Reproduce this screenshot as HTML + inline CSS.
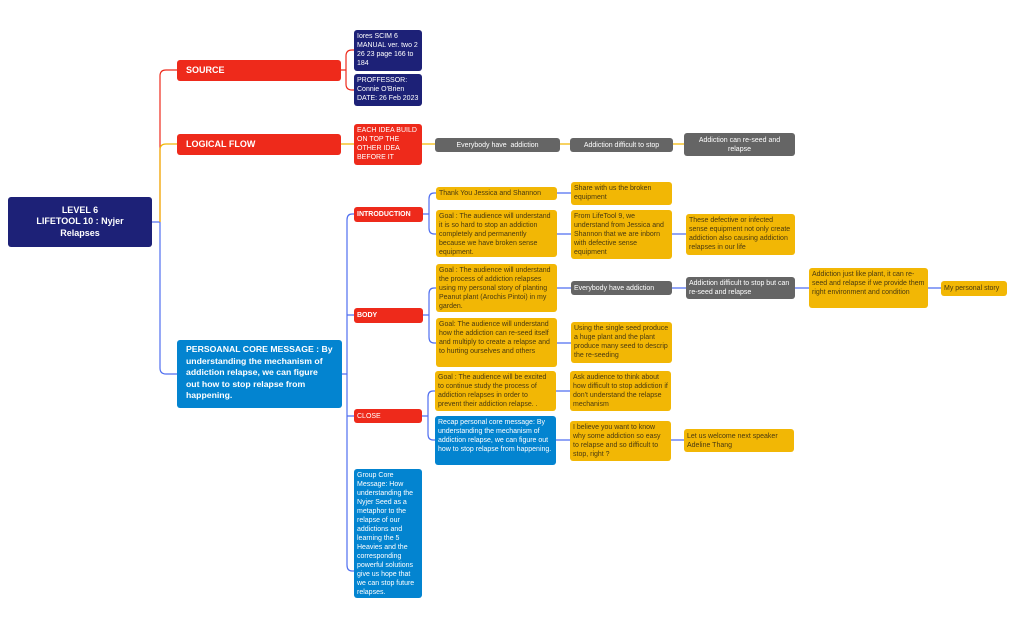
<!DOCTYPE html>
<html><head><meta charset="utf-8"><style>
body{margin:0;width:1016px;height:629px;background:#fff;position:relative;overflow:hidden;font-family:"Liberation Sans",sans-serif}
.b{position:absolute;box-sizing:border-box;border-radius:3px;font-size:7px;line-height:9px;padding:2px 3px;overflow:hidden}
.y{background:#f2b705;color:#4a3a10}
.g{background:#656565;color:#fff}
.r{background:#ee2a1b;color:#fff}
.n{background:#1d2177;color:#fff}
.bl{background:#0384d0;color:#fff}
.c{text-align:center}
.m{display:flex;align-items:center}
.m.c{justify-content:center}
svg{position:absolute;left:0;top:0}
</style></head><body>
<svg width="1016" height="629" fill="none" stroke-width="1.2">
<path d="M152 222H160" stroke="#4f6ef0"/>
<path d="M160 222V76Q160 70 166 70H177" stroke="#ee2a1b"/>
<path d="M160 222V150Q160 144 166 144H177" stroke="#f2b705"/>
<path d="M160 222V368Q160 374 166 374H177" stroke="#4f6ef0"/>
<path d="M341 70H346M346 70V56Q346 50 352 50H354M346 70V84Q346 90 352 90H354" stroke="#ee2a1b"/>
<path d="M341 144H354M422 144H435M560 144H570M673 144H684" stroke="#f2b705"/>
<g stroke="#4f6ef0">
<path d="M342 374H347M347 374V220Q347 214 352 214H354M347 374V565Q347 571 352 571H354M347 315H354M347 416H354"/>
<path d="M423 214H429M429 214V199Q429 193 434 193H436M429 214V228Q429 234 434 234H436"/>
<path d="M423 315H429M429 315V294Q429 288 434 288H436M429 315V337Q429 343 434 343H436"/>
<path d="M422 416H428M428 416V397Q428 391 433 391H435M428 416V434Q428 440 433 440H435"/>
<path d="M557 193H571M557 234H571M672 234H686M557 288H571M672 288H686M795 288H809M928 288H941M557 343H571M556 391H570M556 440H570M671 440H684"/>
</g>
</svg>
<div class="b n c m" style="left:8px;top:197px;width:144px;height:50px;font-size:9px;line-height:11.5px;font-weight:bold">LEVEL 6<br>LIFETOOL 10 : Nyjer<br>Relapses</div>
<div class="b r m" style="left:177px;top:60px;width:164px;height:21px;font-size:9px;font-weight:bold;padding:0 9px">SOURCE</div>
<div class="b r m" style="left:177px;top:134px;width:164px;height:21px;font-size:9px;font-weight:bold;padding:0 9px">LOGICAL FLOW</div>
<div class="b bl" style="left:177px;top:340px;width:165px;height:68px;font-size:8.7px;line-height:11.5px;font-weight:bold;padding:4px 9px">PERSOANAL CORE MESSAGE : By understanding the mechanism of addiction relapse, we can figure out how to stop relapse from happening.</div>
<div class="b n" style="left:354px;top:30px;width:68px;height:41px">Iores SCIM 6 MANUAL ver. two 2 26 23 page 166 to 184</div>
<div class="b n" style="left:354px;top:74px;width:68px;height:32px">PROFFESSOR: Connie O'Brien DATE: 26 Feb 2023</div>
<div class="b r" style="left:354px;top:124px;width:68px;height:41px">EACH IDEA BUILD ON TOP THE OTHER IDEA BEFORE IT</div>
<div class="b g c m" style="left:435px;top:138px;width:125px;height:14px">Everybody have &nbsp;addiction</div>
<div class="b g c m" style="left:570px;top:138px;width:103px;height:14px">Addiction difficult to stop</div>
<div class="b g c m" style="left:684px;top:133px;width:111px;height:23px;padding:0 14px">Addiction can re-seed and relapse</div>
<div class="b r m" style="left:354px;top:207px;width:69px;height:15px;font-weight:bold">INTRODUCTION</div>
<div class="b r m" style="left:354px;top:308px;width:69px;height:15px;font-weight:bold">BODY</div>
<div class="b r m" style="left:354px;top:409px;width:68px;height:14px">CLOSE</div>
<div class="b bl" style="left:354px;top:469px;width:68px;height:129px">Group Core Message: How understanding the Nyjer Seed as a metaphor to the relapse of our addictions and learning the 5 Heavies and the corresponding powerful solutions give us hope that we can stop future relapses.</div>
<div class="b y m" style="left:436px;top:187px;width:121px;height:13px">Thank You Jessica and Shannon</div>
<div class="b y" style="left:436px;top:210px;width:121px;height:47px">Goal : The audience will understand it is so hard to stop an addiction completely and permanently because we have broken sense equipment.</div>
<div class="b y" style="left:571px;top:182px;width:101px;height:23px">Share with us the broken equipment</div>
<div class="b y" style="left:571px;top:210px;width:101px;height:49px">From LifeTool 9, we understand from Jessica and Shannon that we are inborn with defective sense equipment</div>
<div class="b y" style="left:686px;top:214px;width:109px;height:41px">These defective or infected sense equipment not only create addiction also causing addiction relapses in our life</div>
<div class="b y" style="left:436px;top:264px;width:121px;height:48px">Goal : The audience will understand the process of addiction relapses using my personal story of planting Peanut plant (Arochis Pintoi) in my garden.</div>
<div class="b y" style="left:436px;top:318px;width:121px;height:49px">Goal: The audience will understand how the addiction can re-seed itself and multiply to create a relapse and to hurting ourselves and others</div>
<div class="b g m" style="left:571px;top:281px;width:101px;height:14px">Everybody have addiction</div>
<div class="b g m" style="left:686px;top:277px;width:109px;height:22px">Addiction difficult to stop but can re-seed and relapse</div>
<div class="b y" style="left:809px;top:268px;width:119px;height:40px">Addiction just like plant, it can re-seed and relapse if we provide them right environment and condition</div>
<div class="b y m" style="left:941px;top:281px;width:66px;height:15px">My personal story</div>
<div class="b y" style="left:571px;top:322px;width:101px;height:41px">Using the single seed produce a huge plant and the plant produce many seed to descrip the re-seeding</div>
<div class="b y" style="left:435px;top:371px;width:121px;height:40px">Goal : The audience will be excited to continue study the process of addiction relapses in order to prevent their addiction relapse. .</div>
<div class="b bl" style="left:435px;top:416px;width:121px;height:49px">Recap personal core message: By understanding the mechanism of addiction relapse, we can figure out how to stop relapse from happening.</div>
<div class="b y" style="left:570px;top:371px;width:101px;height:40px">Ask audience to think about how difficult to stop addiction if don't understand the relapse mechanism</div>
<div class="b y" style="left:570px;top:421px;width:101px;height:40px">I believe you want to know why some addiction so easy to relapse and so difficult to stop, right ?</div>
<div class="b y m" style="left:684px;top:429px;width:110px;height:23px">Let us welcome next speaker Adeline Thang</div>
</body></html>
